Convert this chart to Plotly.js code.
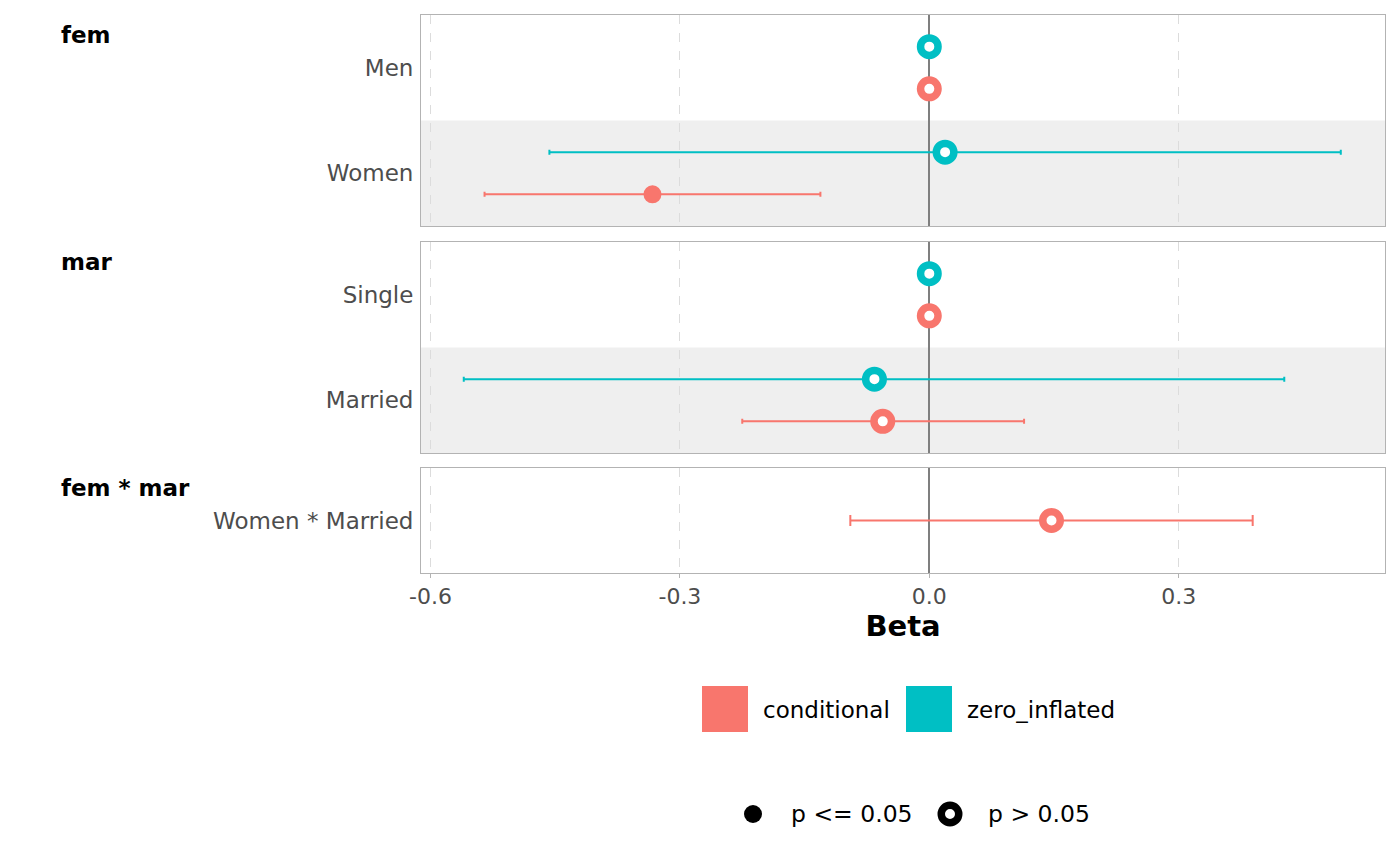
<!DOCTYPE html>
<html>
<head>
<meta charset="utf-8">
<script src="https://cdn.plot.ly/plotly-3.0.1.min.js"></script>
<style>html,body{margin:0;padding:0;background:#fff;}#chart{width:1400px;height:866px;}</style>
</head>
<body>
<div id="chart"></div>
<script>
// ---- data ----
const facetNames = ['fem', 'mar', 'fem * mar'];
const termFacet  = [0, 0, 1, 1, 2];
const termLabels = ['Men', 'Women', 'Single', 'Married', 'Women * Married'];

const condEst  = [0, -0.333, 0, -0.056, 0.147];
const condLow  = [null, -0.535, null, -0.225, -0.095];
const condHigh = [null, -0.131, null, 0.114, 0.389];
const condSig  = [false, true, false, false, false];

const ziEst  = [0, 0.019, 0, -0.066, null];
const ziLow  = [null, -0.457, null, -0.560, null];
const ziHigh = [null, 0.495, null, 0.427, null];
const ziSig  = [false, false, false, false, null];

const seriesNames = ['conditional', 'zero_inflated'];
const seriesColors = ['#F8766D', '#00BFC4'];
const xTickVals = [-0.6, -0.3, 0.0, 0.3];
const xTickText = ['-0.6', '-0.3', '0.0', '0.3'];

// ---- layout helpers ----
const W = 1400, H = 866;
const M = {l: 421, r: 15, t: 15, b: 293};
const PW = W - M.l - M.r, PH = H - M.t - M.b;
const X = px => (px - M.l) / PW;
const Y = py => (H - M.b - py) / PH;
const FONT = 'DejaVu Sans';

// subplot mapping per facet (top to bottom)
const facetAxes = [
  {x: 'x3', y: 'y',  xk: 'xaxis3', yk: 'yaxis',  dom: [Y(226), Y(15)]},
  {x: 'x2', y: 'y2', xk: 'xaxis2', yk: 'yaxis2', dom: [Y(453), Y(242)]},
  {x: 'x',  y: 'y3', xk: 'xaxis',  yk: 'yaxis3', dom: [0, Y(468)]}
];

const series = [
  {est: condEst, lo: condLow, hi: condHigh, sig: condSig},
  {est: ziEst, lo: ziLow, hi: ziHigh, sig: ziSig}
];

const traces = [];
const shapes = [];
const layout = {
  width: W, height: H,
  margin: M,
  paper_bgcolor: '#ffffff',
  plot_bgcolor: 'rgba(0,0,0,0)',
  showlegend: false,
  font: {family: FONT, color: '#4d4d4d'},
  annotations: [],
  shapes: shapes
};

const xRange = [(421 - 929.3) / 831.3, (1385 - 929.3) / 831.3];

facetNames.forEach((fname, f) => {
  const ax = facetAxes[f];
  const idx = termFacet.map((v, i) => v === f ? i : -1).filter(i => i >= 0);
  const n = idx.length;
  const rowY = idx.map((_, k) => n - 1 - k);

  // shading of alternate rows
  idx.forEach((ti, k) => {
    if (k % 2 === 1) {
      shapes.push({type: 'rect', xref: ax.x + ' domain', yref: ax.y,
        x0: 0, x1: 1, y0: rowY[k] - 0.5, y1: rowY[k] + 0.5,
        fillcolor: '#efefef', line: {width: 0}, layer: 'below'});
    }
  });

  const twoSeries = idx.some(ti => ziEst[ti] !== null);
  series.forEach((s, si) => {
    const xs = [], ys = [], ep = [], em = [], mc = [], ml = [], ms = [];
    idx.forEach((ti, k) => {
      if (s.est[ti] === null) return;
      const off = twoSeries ? (si === 1 ? 0.2 : -0.2) : 0;
      xs.push(s.est[ti]);
      ys.push(rowY[k] + off);
      ep.push(s.hi[ti] === null ? NaN : s.hi[ti] - s.est[ti]);
      em.push(s.lo[ti] === null ? NaN : s.est[ti] - s.lo[ti]);
      const sig = s.sig[ti];
      mc.push(sig ? seriesColors[si] : '#ffffff');
      ml.push(sig ? 0 : 7.5);
      ms.push(sig ? 18 : 17.5);
    });
    if (!xs.length) return;
    traces.push({
      type: 'scatter', mode: 'markers', name: seriesNames[si],
      x: xs, y: ys, xaxis: ax.x, yaxis: ax.y,
      marker: {color: mc, size: ms, opacity: 1, line: {color: seriesColors[si], width: ml}},
      error_x: {type: 'data', symmetric: false, array: ep, arrayminus: em,
        color: seriesColors[si], thickness: 2, width: twoSeries ? 2.5 : 5.5},
      hoverinfo: 'x+y'
    });
  });

  const isBottom = f === facetNames.length - 1;
  layout[ax.xk] = {
    anchor: ax.y, range: xRange, autorange: false,
    tickmode: 'array', tickvals: xTickVals, ticktext: xTickText,
    showgrid: true, gridcolor: '#dcdcdc', griddash: 'dash', gridwidth: 1,
    zeroline: true, zerolinecolor: '#7f7f7f', zerolinewidth: 2,
    showline: true, mirror: true, linecolor: '#b3b3b3', linewidth: 1,
    showticklabels: isBottom,
    ticks: isBottom ? 'outside' : '', ticklen: 4, tickcolor: '#b3b3b3',
    tickfont: {family: FONT, size: 22, color: '#4d4d4d'},
    fixedrange: true
  };
  if (ax.x !== 'x') layout[ax.xk].matches = 'x';
  if (isBottom) {
    layout[ax.xk].title = {text: '<b>Beta</b>', font: {family: FONT, size: 29, color: '#000'}, standoff: 6};
  }
  layout[ax.yk] = {
    domain: ax.dom, anchor: ax.x, range: [-0.5, n - 0.5], autorange: false,
    tickmode: 'array', tickvals: rowY, ticktext: idx.map(i => termLabels[i]),
    showgrid: false, zeroline: false,
    showline: true, mirror: true, linecolor: '#b3b3b3', linewidth: 1,
    ticks: 'outside', ticklen: 2, tickcolor: 'rgba(0,0,0,0)',
    tickfont: {family: FONT, size: 23, color: '#4d4d4d'},
    fixedrange: true
  };

  // facet title
  const topPx = [15, 242, 468][f];
  layout.annotations.push({
    text: '<b>' + fname + '</b>', xref: 'paper', yref: 'paper',
    x: X(59), y: Y(topPx + 20), xanchor: 'left', yanchor: 'middle',
    showarrow: false, font: {family: FONT, size: 23, color: '#000'}
  });
});

// ---- legend: colour ----
const legColX = [702, 906];
seriesNames.forEach((nm, si) => {
  shapes.push({type: 'rect', xref: 'paper', yref: 'paper',
    x0: X(legColX[si]), x1: X(legColX[si] + 46), y0: Y(732), y1: Y(686),
    fillcolor: seriesColors[si], line: {width: 0}});
  layout.annotations.push({text: nm, xref: 'paper', yref: 'paper',
    x: X(legColX[si] + 59), y: Y(710), xanchor: 'left', yanchor: 'middle',
    showarrow: false, font: {family: FONT, size: 23, color: '#000'}});
});

// ---- legend: significance shapes ----
const sigLabels = ['p <= 0.05', 'p > 0.05'];
const sigX = [753, 950];
const cy = 814;
shapes.push({type: 'circle', xref: 'paper', yref: 'paper',
  x0: X(sigX[0] - 9), x1: X(sigX[0] + 9), y0: Y(cy + 9), y1: Y(cy - 9),
  fillcolor: '#000', line: {width: 0}});
shapes.push({type: 'circle', xref: 'paper', yref: 'paper',
  x0: X(sigX[1] - 8.75), x1: X(sigX[1] + 8.75), y0: Y(cy + 8.75), y1: Y(cy - 8.75),
  fillcolor: '#fff', line: {width: 7.5, color: '#000'}});
sigLabels.forEach((lab, i) => {
  layout.annotations.push({text: lab, xref: 'paper', yref: 'paper',
    x: X(sigX[i] + 36), y: Y(cy), xanchor: 'left', yanchor: 'middle',
    showarrow: false, font: {family: FONT, size: 23.5, color: '#000'}});
});

Plotly.newPlot('chart', traces, layout, {displayModeBar: false, staticPlot: true});
</script>
</body>
</html>
